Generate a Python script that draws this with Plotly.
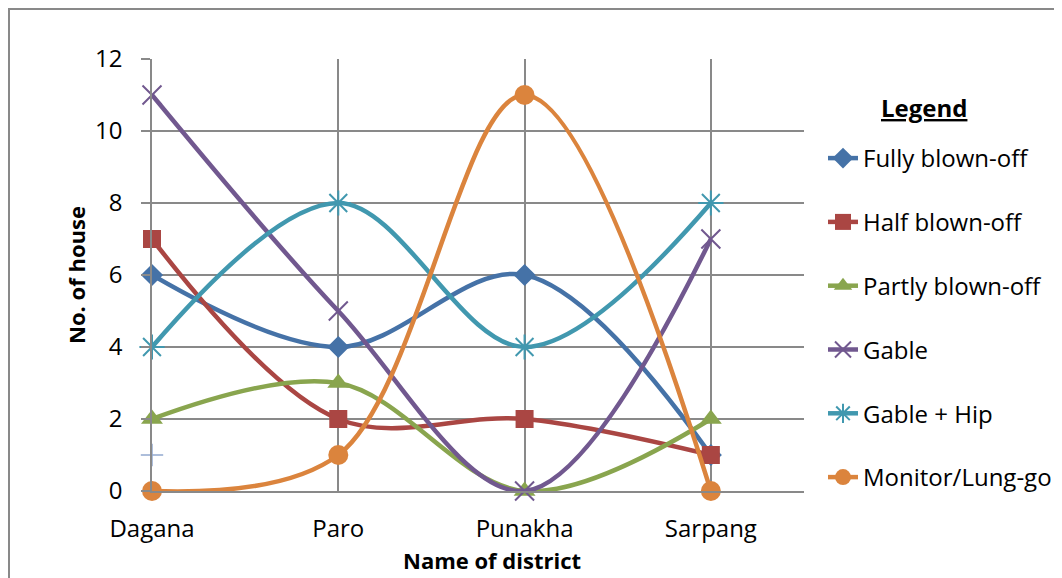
import plotly.graph_objects as go

districts = ["Dagana", "Paro", "Punakha", "Sarpang"]
fully_blown_off = [6, 4, 6, 1]
half_blown_off = [7, 2, 2, 1]
partly_blown_off = [2, 3, 0, 2]
gable = [11, 5, 0, 7]
gable_hip = [4, 8, 4, 8]
monitor_lung_go = [0, 1, 11, 0]
extra_point = [1]  # stray point at Dagana (not in legend)

y_ticks = [0, 2, 4, 6, 8, 10, 12]

FONT = "Open Sans"
GRID = "#898989"
FS = 24

# the page body adds an 8px offset; the figure is sized to fill the rest of the window
W, H = 1054, 570
L, R, T, B = 144, 258, 51, 87
PW, PH = W - L - R, H - T - B  # 652 x 432


def px_x(sx):  # screen x -> paper x
    return (sx - 8 - L) / PW


def px_y(sy):  # screen y -> paper y
    return (H - B - (sy - 8)) / PH


xpos = list(range(len(districts)))

series = [
    ("Fully blown-off", fully_blown_off, "#4572A7", dict(symbol="diamond", size=17)),
    ("Half blown-off", half_blown_off, "#AA4643", dict(symbol="square", size=18)),
    ("Partly blown-off", partly_blown_off, "#89A54E", dict(symbol="triangle-up", size=19)),
    ("Gable", gable, "#71588F", dict(symbol="x-thin", size=19, line=dict(width=2, color="#71588F"))),
    ("Gable + Hip", gable_hip, "#4198AF", dict(symbol="asterisk", size=21, line=dict(width=2, color="#4198AF"))),
    ("Monitor/Lung-go", monitor_lung_go, "#DB843D", dict(symbol="circle", size=20)),
]

fig = go.Figure()
for i, (name, vals, color, mk) in enumerate(series):
    mk = dict(mk)
    mk["color"] = color
    fig.add_trace(go.Scatter(
        x=xpos, y=vals, name=name, mode="lines+markers",
        line=dict(color=color, width=4.5, shape="spline", smoothing=1.0),
        marker=mk, legendgroup=f"g{i}", cliponaxis=False,
    ))

fig.add_trace(go.Scatter(
    x=xpos[:len(extra_point)], y=extra_point, mode="markers", showlegend=False,
    marker=dict(symbol="cross-thin", size=16, color="#93A9CF",
                line=dict(width=1.5, color="#93A9CF")),
    cliponaxis=False,
))

fig.update_layout(
    width=W, height=H,
    margin=dict(l=L, r=R, t=T, b=B, autoexpand=False),
    paper_bgcolor="white", plot_bgcolor="white",
    font=dict(family=FONT, size=FS, color="black"),
    xaxis=dict(
        range=[0, 3.5], tickmode="array", tickvals=xpos, ticktext=districts,
        showgrid=True, gridcolor=GRID, gridwidth=1.5,
        showline=True, linecolor=GRID, linewidth=1.5,
        zeroline=False, ticks="", ticklabelstandoff=15, automargin=False,
        tickfont=dict(family=FONT, size=FS),
    ),
    yaxis=dict(
        range=[0, 12], tickmode="array", tickvals=y_ticks,
        showgrid=True, gridcolor=GRID, gridwidth=1.5,
        showline=True, linecolor=GRID, linewidth=1.5,
        zeroline=False, ticks="outside", ticklen=9, tickcolor=GRID, tickwidth=1.5,
        ticklabelstandoff=14, automargin=False,
        tickfont=dict(family=FONT, size=FS),
        title=dict(text="<b>No. of house</b>", font=dict(family=FONT, size=22), standoff=3),
    ),
    legend=dict(
        x=px_x(823), xanchor="left", y=px_y(136), yanchor="top",
        font=dict(family=FONT, size=FS),
        tracegroupgap=29.6, itemsizing="trace", bgcolor="rgba(0,0,0,0)",
    ),
    annotations=[
        dict(text="<b><u>Legend</u></b>", xref="paper", yref="paper",
             x=px_x(924), y=px_y(107), xanchor="center", yanchor="middle",
             showarrow=False, font=dict(family=FONT, size=FS)),
        dict(text="<b>Name of district</b>", xref="paper", yref="paper",
             x=px_x(492), y=px_y(560), xanchor="center", yanchor="middle",
             showarrow=False, font=dict(family=FONT, size=22)),
    ],
    shapes=[dict(type="rect", xref="paper", yref="paper",
                 x0=px_x(9), x1=2.0, y0=-1.0, y1=px_y(9),
                 line=dict(color=GRID, width=2), fillcolor="rgba(0,0,0,0)", layer="below")],
)

fig.write_html("out.html")
